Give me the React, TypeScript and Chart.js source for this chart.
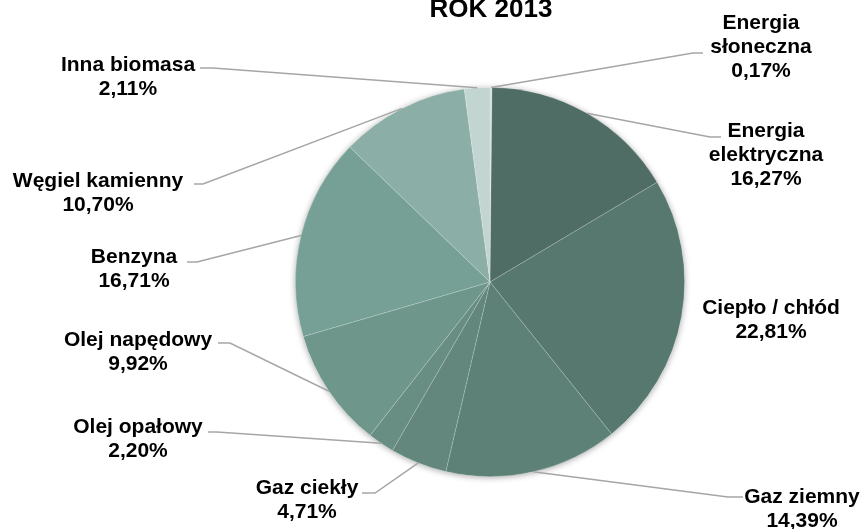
import React, { useEffect, useRef } from 'react';
import { Chart, registerables } from 'chart.js';

Chart.register(...registerables);

const title = 'ROK 2013';
const categories = [
  'Energia słoneczna',
  'Energia elektryczna',
  'Ciepło / chłód',
  'Gaz ziemny',
  'Gaz ciekły',
  'Olej opałowy',
  'Olej napędowy',
  'Benzyna',
  'Węgiel kamienny',
  'Inna biomasa',
];
const labelLines = [
  ['Energia', 'słoneczna'],
  ['Energia', 'elektryczna'],
  ['Ciepło / chłód'],
  ['Gaz ziemny'],
  ['Gaz ciekły'],
  ['Olej opałowy'],
  ['Olej napędowy'],
  ['Benzyna'],
  ['Węgiel kamienny'],
  ['Inna biomasa'],
];
const values = [0.17, 16.27, 22.81, 14.39, 4.71, 2.2, 9.92, 16.71, 10.7, 2.11];

const colors = [
  '#D3E0DC',
  '#4F6D64',
  '#57786F',
  '#5E8177',
  '#63877D',
  '#688D83',
  '#6E968B',
  '#76A095',
  '#8BAEA6',
  '#C2D5D1',
];

// label layout: text center x, first baseline y, leader elbow (ex, ey), leader end x
const labelLayout = [
  { tx: 761, ty: 29, ex: 693, ey: 53, endX: 703 },
  { tx: 766, ty: 137, ex: 710, ey: 137, endX: 721 },
  { tx: 771, ty: 314, ex: null, ey: null, endX: null },
  { tx: 802, ty: 503, ex: 728, ey: 497, endX: 743 },
  { tx: 307, ty: 494, ex: 375, ey: 493, endX: 362 },
  { tx: 138, ty: 433, ex: 217, ey: 432, endX: 208 },
  { tx: 138, ty: 346, ex: 230, ey: 343, endX: 218 },
  { tx: 134, ty: 263, ex: 197, ey: 262, endX: 187 },
  { tx: 98, ty: 187, ex: 203, ey: 184, endX: 194 },
  { tx: 128, ty: 71, ex: 213, ey: 68, endX: 200 },
];

const FONT = "'Liberation Sans', Arial, sans-serif";

const fmt = (v: number) => v.toFixed(2).replace('.', ',') + '%';

const shadowPlugin = {
  id: 'pieShadow',
  beforeDatasetsDraw(chart: any) {
    const meta = chart.getDatasetMeta(0);
    const arc = meta.data[0];
    if (!arc) return;
    const { x, y, outerRadius } = arc.getProps(['x', 'y', 'outerRadius'], true);
    const ctx = chart.ctx;
    ctx.save();
    ctx.shadowColor = 'rgba(0,0,0,0.35)';
    ctx.shadowBlur = 6;
    ctx.shadowOffsetX = 0;
    ctx.shadowOffsetY = 1;
    ctx.fillStyle = '#ffffff';
    ctx.beginPath();
    ctx.arc(x, y, outerRadius, 0, Math.PI * 2);
    ctx.fill();
    ctx.restore();
  },
};

const labelPlugin = {
  id: 'outerLabels',
  afterDatasetsDraw(chart: any) {
    const ctx = chart.ctx;
    const meta = chart.getDatasetMeta(0);
    ctx.save();
    // title
    ctx.fillStyle = '#000000';
    ctx.font = `bold 26px ${FONT}`;
    ctx.textAlign = 'center';
    ctx.textBaseline = 'alphabetic';
    ctx.fillText(title, 491, 17);

    meta.data.forEach((arc: any, i: number) => {
      const p = arc.getProps(['x', 'y', 'startAngle', 'endAngle', 'outerRadius'], true);
      const mid = (p.startAngle + p.endAngle) / 2;
      const sx = p.x + Math.cos(mid) * p.outerRadius;
      const sy = p.y + Math.sin(mid) * p.outerRadius;
      const L = labelLayout[i];
      if (L.ex !== null) {
        ctx.strokeStyle = '#A6A6A6';
        ctx.lineWidth = 1.5;
        ctx.beginPath();
        ctx.moveTo(sx, sy);
        ctx.lineTo(L.ex, L.ey);
        ctx.lineTo(L.endX, L.ey);
        ctx.stroke();
      }
      const lines = [...labelLines[i], fmt(values[i])];
      ctx.fillStyle = '#000000';
      ctx.font = `bold 21px ${FONT}`;
      ctx.textAlign = 'center';
      lines.forEach((t, k) => {
        ctx.fillText(t, L.tx, L.ty + k * 24);
      });
    });
    ctx.restore();
  },
};

export default function App() {
  const ref = useRef<HTMLCanvasElement | null>(null);
  useEffect(() => {
    if (!ref.current) return;
    const chart = new Chart(ref.current, {
      type: 'pie',
      data: {
        labels: categories,
        datasets: [
          {
            data: values,
            backgroundColor: colors,
            borderColor: 'rgba(255,255,255,0.22)',
            borderWidth: 0.8,
          },
        ],
      },
      options: {
        responsive: false,
        animation: false,
        layout: { padding: { top: 87, bottom: 52, left: 295, right: 182 } },
        plugins: {
          legend: { display: false },
          title: { display: false },
          tooltip: { enabled: false },
        },
      },
      plugins: [shadowPlugin, labelPlugin],
    });
    return () => chart.destroy();
  }, []);
  return (
    <div style={{ position: 'absolute', left: 0, top: 0, width: 867, height: 529, background: '#fff' }}>
      <canvas ref={ref} width={867} height={529} />
    </div>
  );
}
